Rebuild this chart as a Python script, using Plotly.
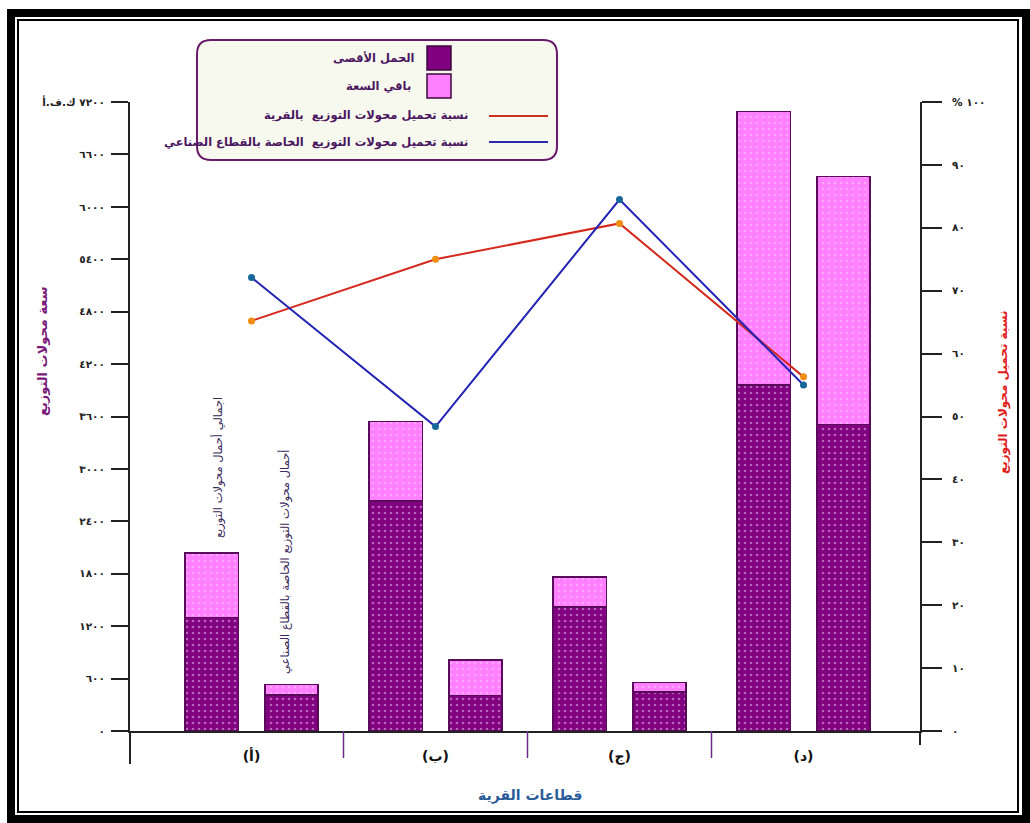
import plotly.graph_objects as go

# ---------------- data ----------------
sectors = ["(أ)", "(ب)", "(ج)", "(د)"]
# per sector: [total loads bar, industrial-sector bar]
max_load = [1300, 415, 2630, 405, 1420, 445, 3960, 3510]        # الحمل الأقصى
remaining = [740, 120, 910, 405, 340, 110, 3130, 2835]           # باقي السعة
village_load_pct = [65.2, 75.0, 80.7, 56.3]                       # نسبة تحميل محولات التوزيع بالقرية
industrial_load_pct = [72.1, 48.4, 84.5, 55.0]                    # ... الخاصة بالقطاع الصناعي
left_ticks = [0, 600, 1200, 1800, 2400, 3000, 3600, 4200, 4800, 5400, 6000, 6600, 7200]
right_ticks = [0, 10, 20, 30, 40, 50, 60, 70, 80, 90, 100]

AR = str.maketrans("0123456789", "٠١٢٣٤٥٦٧٨٩")
def ar(n):
    return str(n).translate(AR)

left_text = [ar(v) for v in left_ticks[:-1]] + [ar(left_ticks[-1]) + " ك.ف.أ"]
right_text = [ar(v) for v in right_ticks[:-1]] + ["% " + ar(right_ticks[-1])]

# ---------------- geometry helpers ----------------
W, H = 1030, 823
L, R, T, B = 130, 920, 102, 731
def px(x):
    return (x - L) / (R - L)
def py(y):
    return (B - y) / (B - T)

group_idx = [1, 2, 3, 4]
half_gap = 0.217
bar_x = []
for g in group_idx:
    bar_x += [g - half_gap, g + half_gap]

FONT = "DejaVu Sans, Arial, sans-serif"
DARK = "#800080"
LIGHT = "#ff80ff"
EDGE = "#5a0a5a"

fig = go.Figure()
fig.add_trace(go.Bar(
    x=bar_x, y=max_load, width=0.29, name="الحمل الأقصى",
    marker=dict(color=DARK, line=dict(color=EDGE, width=1.5),
                pattern=dict(shape=".", bgcolor=DARK, fgcolor="#efc8f4", size=6, solidity=0.16)),
    showlegend=False, hoverinfo="skip"))
fig.add_trace(go.Bar(
    x=bar_x, y=remaining, width=0.29, name="باقي السعة",
    marker=dict(color=LIGHT, line=dict(color=EDGE, width=1.5),
                pattern=dict(shape=".", bgcolor=LIGHT, fgcolor="#ffc8ff", size=6, solidity=0.16)),
    showlegend=False, hoverinfo="skip"))
fig.add_trace(go.Scatter(
    x=group_idx, y=village_load_pct, yaxis="y2", mode="lines+markers",
    line=dict(color="#d42a1e", width=2), marker=dict(color="#f08c10", size=7),
    showlegend=False, hoverinfo="skip"))
fig.add_trace(go.Scatter(
    x=group_idx, y=industrial_load_pct, yaxis="y2", mode="lines+markers",
    line=dict(color="#2424b4", width=2), marker=dict(color="#17689a", size=7),
    showlegend=False, hoverinfo="skip"))

x0v = 1 + (L - 251.5) / 184
x1v = 1 + (R - 251.5) / 184

fig.update_layout(
    width=W, height=H, margin=dict(l=L, r=W - R, t=T, b=H - B),
    paper_bgcolor="white", plot_bgcolor="white", barmode="stack",
    font=dict(family=FONT, color="#222"),
    xaxis=dict(range=[x0v, x1v], tickvals=group_idx, ticktext=sectors, ticks="",
               showgrid=False, zeroline=False, showline=True, linecolor="#222", linewidth=1.5,
               tickfont=dict(size=14, color="#111", weight="bold"), ticklabelstandoff=11),
    yaxis=dict(range=[0, 7200], tickvals=left_ticks, ticktext=left_text, ticks="outside",
               ticklen=17, tickwidth=1.5, tickcolor="#222", showgrid=False, zeroline=False,
               showline=True, linecolor="#222", linewidth=2,
               tickfont=dict(size=10.5, color="#222", weight="bold"), ticklabelstandoff=4),
    yaxis2=dict(range=[0, 100], overlaying="y", side="right", tickvals=right_ticks,
                ticktext=right_text, ticks="outside", ticklen=20, tickwidth=1.5, tickcolor="#222",
                showgrid=False, zeroline=False, showline=True, linecolor="#222", linewidth=2,
                tickfont=dict(size=10.5, color="#222", weight="bold"), ticklabelstandoff=8),
)

shapes = []
# outer double frame
shapes.append(dict(type="rect", xref="paper", yref="paper", x0=px(11), x1=px(1026), y0=py(13), y1=py(819),
                   line=dict(color="black", width=8), fillcolor="rgba(0,0,0,0)", layer="above"))
shapes.append(dict(type="rect", xref="paper", yref="paper", x0=px(18), x1=px(1018), y0=py(20), y1=py(812),
                   line=dict(color="black", width=2), fillcolor="rgba(0,0,0,0)", layer="above"))
# axis extensions below the baseline
shapes.append(dict(type="line", xref="paper", yref="paper", x0=0, x1=0, y0=0, y1=py(764),
                   line=dict(color="#222", width=2)))
shapes.append(dict(type="line", xref="paper", yref="paper", x0=1, x1=1, y0=0, y1=py(745),
                   line=dict(color="#222", width=2)))
# sector separators
for s in [1.5, 2.5, 3.5]:
    shapes.append(dict(type="line", xref="x", yref="paper", x0=s, x1=s, y0=0, y1=py(758),
                       line=dict(color="#6a2a8a", width=1.5)))

# legend box (rounded)
lx0, lx1, ly0, ly1, rr = 197, 557, 40, 160, 14
path = (f"M {px(lx0 + rr)},{py(ly0)} L {px(lx1 - rr)},{py(ly0)} Q {px(lx1)},{py(ly0)} {px(lx1)},{py(ly0 + rr)} "
        f"L {px(lx1)},{py(ly1 - rr)} Q {px(lx1)},{py(ly1)} {px(lx1 - rr)},{py(ly1)} "
        f"L {px(lx0 + rr)},{py(ly1)} Q {px(lx0)},{py(ly1)} {px(lx0)},{py(ly1 - rr)} "
        f"L {px(lx0)},{py(ly0 + rr)} Q {px(lx0)},{py(ly0)} {px(lx0 + rr)},{py(ly0)} Z")
shapes.append(dict(type="path", xref="paper", yref="paper", path=path,
                   line=dict(color="#6a1a6a", width=2), fillcolor="#f7f9ee", layer="above"))
shapes.append(dict(type="rect", xref="paper", yref="paper", x0=px(427), x1=px(451), y0=py(46), y1=py(70),
                   line=dict(color="#3a0a3a", width=1.5), fillcolor=DARK, layer="above"))
shapes.append(dict(type="rect", xref="paper", yref="paper", x0=px(427), x1=px(451), y0=py(74), y1=py(98),
                   line=dict(color="#3a0a3a", width=1.5), fillcolor=LIGHT, layer="above"))
shapes.append(dict(type="line", xref="paper", yref="paper", x0=px(489), x1=px(548), y0=py(116), y1=py(116),
                   line=dict(color="#c8321e", width=2), layer="above"))
shapes.append(dict(type="line", xref="paper", yref="paper", x0=px(489), x1=px(548), y0=py(142), y1=py(142),
                   line=dict(color="#2a2aa8", width=2), layer="above"))
fig.update_layout(shapes=shapes)

LEGC = "#4a1660"
anns = [
    dict(text="الحمل الأقصى", x=px(417), y=py(58), xanchor="right", yanchor="middle",
         font=dict(size=11.5, color=LEGC, weight="bold")),
    dict(text="باقي السعة", x=px(413), y=py(86), xanchor="right", yanchor="middle",
         font=dict(size=11.5, color=LEGC, weight="bold")),
    dict(text="نسبة تحميل محولات التوزيع  بالقرية", x=px(470), y=py(115), xanchor="right", yanchor="middle",
         font=dict(size=11.5, color=LEGC, weight="bold")),
    dict(text="نسبة تحميل محولات التوزيع  الخاصة بالقطاع الصناعي", x=px(470), y=py(142), xanchor="right",
         yanchor="middle", font=dict(size=11.5, color=LEGC, weight="bold")),
    dict(text="سعة محولات التوزيع", x=px(42), y=py(352), textangle=-90, xanchor="center", yanchor="middle",
         font=dict(size=13, color="#7a1a7a", weight="bold")),
    dict(text="نسبة تحميل محولات التوزيع", x=px(1003), y=py(392), textangle=-90, xanchor="center",
         yanchor="middle", font=dict(size=12, color="#e0201a", weight="bold")),
    dict(text="اجمالي أحمال محولات التوزيع", x=px(218), y=py(468), textangle=-90, xanchor="center",
         yanchor="middle", font=dict(size=11.5, color="#3a2a5a")),
    dict(text="أحمال محولات التوزيع الخاصة بالقطاع الصناعي", x=px(285), y=py(562), textangle=-90,
         xanchor="center", yanchor="middle", font=dict(size=11.5, color="#3a2a5a")),
    dict(text="قطاعات القرية", x=px(530), y=py(795), xanchor="center", yanchor="middle",
         font=dict(size=14, color="#2a5c9a", weight="bold")),
]
for a in anns:
    a.update(xref="paper", yref="paper", showarrow=False)
fig.update_layout(annotations=anns)

fig.write_html("out.html")
